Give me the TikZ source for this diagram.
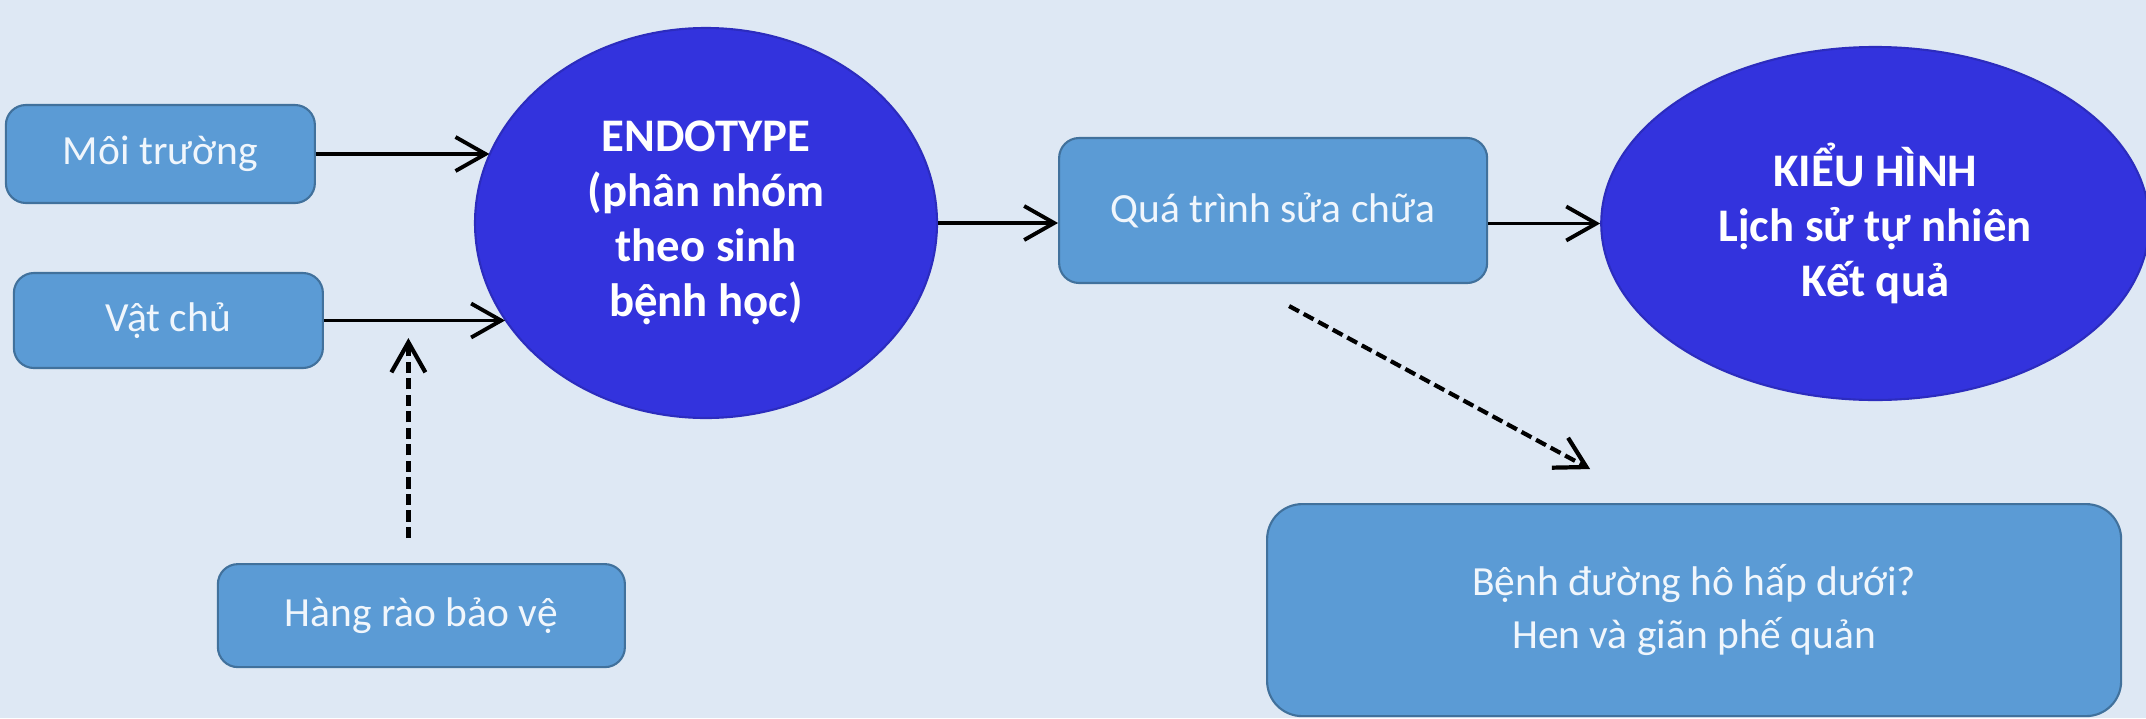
\documentclass[tikz,border=0pt]{standalone}
\usepackage{fontspec}
\setmainfont{Carlito}
\usepackage{tikz}
\usetikzlibrary{positioning, arrows.meta, shapes.geometric}
\definecolor{bgblue}{HTML}{DEE8F4}
\definecolor{boxfill}{HTML}{5B9BD5}
\definecolor{boxline}{HTML}{41719C}
\definecolor{blobfill}{HTML}{3333DD}
\definecolor{blobline}{HTML}{2C2CBE}
\definecolor{boxtext}{HTML}{F0F6FC}
\tikzset{box/.style={draw=boxline, fill=boxfill, line width=0.6pt, rounded corners=2mm, align=center, text=boxtext, font=\fontsize{11.8}{15}\selectfont, inner sep=0pt},blob/.style={ellipse, draw=blobline, fill=blobfill, line width=0.6pt, align=center, text=white, font=\fontsize{13.3}{15.6}\selectfont\bfseries, inner sep=0pt},flow/.style={-{Straight Barb[length=3mm, width=3.4mm]}, line width=1.1pt},dflow/.style={flow, line width=1.2pt, dash pattern=on 3.2pt off 1.5pt}}

\begin{document}
\begin{tikzpicture}[
   smallbox/.style={box, minimum width=3.09cm, minimum height=0.98cm},
   bigbox/.style={box, rounded corners=3.5mm, minimum width=8.54cm, minimum height=2.12cm}]

  \fill[bgblue] (0,0) rectangle (21.46,7.18);
  \useasboundingbox (0,0) rectangle (21.46,7.18);

  % Endotype
  \node[blob, minimum width=4.62cm, minimum height=3.9cm] (endo) at (7.06,4.95)
    {ENDOTYPE\\(phân nhóm\\theo sinh\\bệnh học)};

  % inputs
  \node[smallbox, left=1.58cm of endo, yshift=6.9mm] (env) {Môi trường};
  \node[smallbox, minimum height=0.95cm, left=1.5cm of endo, yshift=-9.75mm] (host) {Vật chủ};
  \node[smallbox, minimum width=4.07cm, minimum height=1.03cm, below=1.94cm of host, xshift=2.53cm] (barrier) {Hàng rào bảo vệ};
  \draw[flow] (env.east) -- (env.east -| endo.162);
  \draw[flow] (host.east) -- (host.east -| endo.206);
  \coordinate[above=2.5mm of barrier.north, xshift=-1.3mm] (gatefoot);
  \coordinate[above=2cm of gatefoot] (gatetip);
  \draw[dflow] (gatefoot) -- (gatetip);

  % repair and phenotype
  \node[box, minimum width=4.28cm, minimum height=1.45cm, right=1.2cm of endo, yshift=1.25mm] (repair) {Quá trình sửa chữa};
  \node[blob, minimum width=5.48cm, minimum height=3.53cm, right=1.12cm of repair, yshift=-1.3mm] (pheno)
    {KIỂU HÌNH\\Lịch sử tự nhiên\\Kết quả};
  \draw[flow] (endo.east) -- (endo.east -| repair.west);
  \draw[flow] (pheno.west -| repair.east) -- (pheno.west);

  % lower airway
  \node[bigbox, below=2.19cm of repair, xshift=4.21cm] (lower) {Bệnh đường hô hấp dưới?\\Hen và giãn phế quản};
  \coordinate[below=2.2mm of repair.south, xshift=1.6mm] (mendfoot);
  \coordinate[above=3.4mm of lower.north, xshift=-10.4mm] (lowtip);
  \draw[dflow] (mendfoot) -- (lowtip);
\end{tikzpicture}
\end{document}
